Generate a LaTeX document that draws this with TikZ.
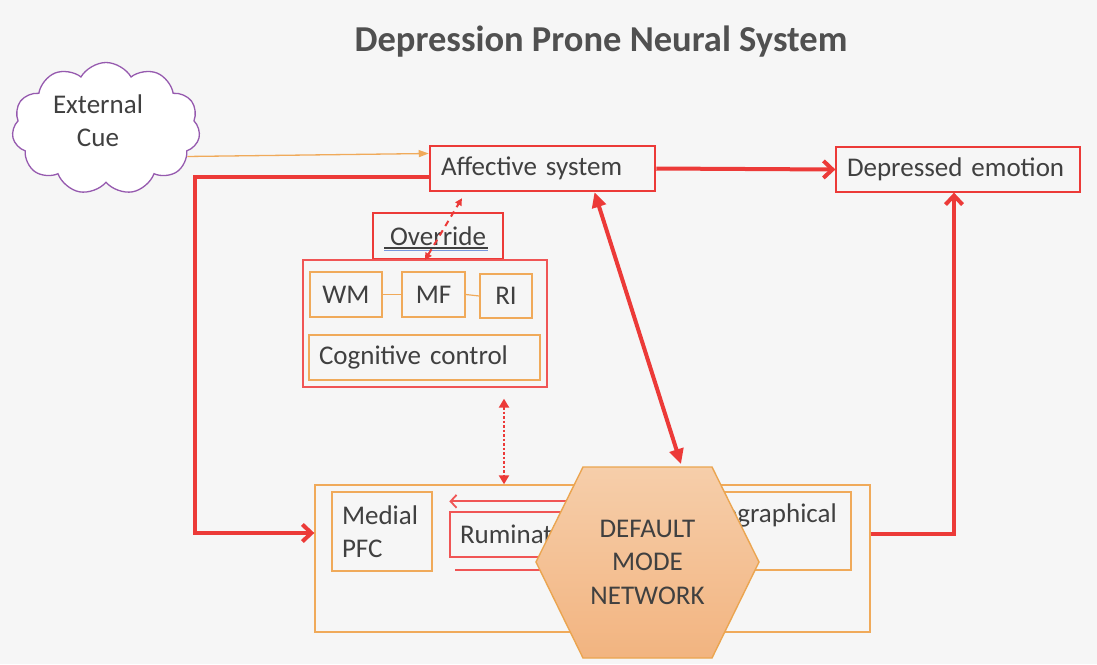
\documentclass[tikz,border=0pt]{standalone}
\usepackage{fontspec}
\setmainfont{Carlito}
\usetikzlibrary{arrows.meta,shapes.symbols}

\definecolor{bg}{RGB}{246,246,246}
\definecolor{redline}{RGB}{236,58,56}
\definecolor{softred}{RGB}{240,85,85}
\definecolor{orangeline}{RGB}{240,170,90}
\definecolor{cloudpurple}{RGB}{150,90,175}
\definecolor{txt}{RGB}{64,64,64}
\definecolor{titletxt}{RGB}{80,80,80}
\definecolor{hextop}{RGB}{246,206,170}
\definecolor{hexbot}{RGB}{242,180,128}
\definecolor{hexedge}{RGB}{235,165,80}
\definecolor{ulblue}{RGB}{120,150,220}

\begin{document}
\begin{tikzpicture}[x=1pt,y=-1pt,
  font=\fontsize{27}{33}\selectfont, text=txt,
  redbox/.style={draw=redline, line width=1.3pt, inner sep=0pt, inner xsep=11pt, align=left},
  orbox/.style={draw=orangeline, line width=1.4pt, inner sep=0pt, inner xsep=10pt, align=left},
  heavy/.style={draw=redline, line width=4pt, -{Straight Barb[length=9pt,width=17pt,line width=4pt]}},
  twoway/.style={draw=redline, line width=4pt, {Triangle[length=15pt,width=14pt]}-{Triangle[length=15pt,width=14pt]}},
  thinred/.style={draw=softred, line width=1.8pt},
]
\useasboundingbox (0,0) rectangle (1097,664);
\fill[bg] (0,0) rectangle (1097,664);

% title
\node[text=titletxt] (title) at (601,42) {\fontsize{36.5}{40}\selectfont\bfseries Depression Prone Neural System};

% external cue cloud
\node[cloud, cloud puffs=11, cloud puff arc=120, aspect=1.4, draw=cloudpurple, fill=white,
      line width=1.3pt, minimum width=188pt, minimum height=132pt, inner sep=0pt]
  (cue) at (106,128.5) {};
\node[align=center, inner sep=0pt] (cuetext) at (98,121) {External\\Cue};

% affective system and output
\node[redbox, line width=2.5pt, text width=203pt, minimum height=45pt] (aff) at (542.5,168.5) {Affective system};
\node[redbox, text width=222pt, minimum height=45pt] (dep) at (958,169.5) {Depressed emotion};

% override and cognitive control
\node[redbox, line width=2pt, inner xsep=0pt, text width=130pt, align=center, minimum height=46pt] (ovr) at (438,236) {Override};
\node[draw=softred, line width=1.3pt, inner sep=0pt, minimum width=244pt, minimum height=127pt] (cog) at (425,323.5) {};
\node[orbox, inner xsep=0pt, text width=72pt, align=center, minimum height=45pt] (wm) at (346,294.5) {WM};
\node[orbox, inner xsep=0pt, text width=63pt, align=center, minimum height=45pt] (mf) at (433.5,294.5) {MF};
\node[orbox, inner xsep=0pt, text width=52pt, align=center, minimum height=44pt] (ri) at (506,296) {RI};
\node[orbox, text width=211pt, minimum height=45pt] (cc) at (424.5,357.5) {Cognitive control};
\draw[orangeline, line width=1.2pt] (wm.east) -- (mf.west);
\draw[orangeline, line width=1.2pt] (mf.east) -- (ri.west);

% underline of the override label
\draw[txt, line width=1.8pt] ([xshift=-54pt,yshift=-12pt]ovr.center) -- ([xshift=50pt,yshift=-12pt]ovr.center);
\draw[ulblue, line width=1.6pt] ([xshift=-54pt,yshift=-14.5pt]ovr.center) -- ([xshift=50pt,yshift=-14.5pt]ovr.center);

% default mode subsystem
\node[draw=orangeline, line width=1.4pt, inner sep=0pt, minimum width=555pt, minimum height=147pt] (bot) at (592.5,558.5) {};
\node[orbox, text width=80pt, minimum height=79pt] (mpfc) at (382,531.5) {Medial\\PFC};
\node[redbox, draw=softred, inner xsep=10pt, text width=130pt, minimum height=45pt] (rum) at (525,534.5) {Rumination};
\node[draw=orangeline, line width=1.4pt, inner sep=0pt, minimum width=206pt, minimum height=78pt] (auto) at (748,531) {};
\node[anchor=east, inner sep=0pt] (autotext) at (837,515) {Autobiographical};
\draw[thinred, -{Straight Barb[length=6pt,width=13pt]}] ([yshift=10pt]rum.north east) -- ([yshift=10pt]rum.north west);
\draw[thinred] ([shift={(6pt,-12pt)}]rum.south west) -- ([yshift=-12pt]rum.south east);

% hexagon of the default mode network
\shade[top color=hextop, bottom color=hexbot, draw=hexedge, line width=1.4pt]
  (536,562) -- (583,467) -- (712,467) -- (759,562) -- (712,658) -- (583,658) -- cycle;
\node[align=center, font=\fontsize{27}{33.5}\selectfont] (dmn) at (647.5,562) {DEFAULT\\MODE\\NETWORK};
\coordinate (dmntop) at (681,464);

% connectors
\draw[orangeline, line width=1.3pt, -{Triangle[length=10pt,width=7pt]}] (cue.-19) -- ([yshift=15pt]aff.west);
\draw[heavy] (aff.east) -- (dep.west);
\draw[heavy] ([yshift=-8.5pt]aff.west) -| (195,533) -- ([yshift=25.5pt]bot.west);
\draw[heavy] ([yshift=25pt]bot.east) -| ([xshift=-4pt]dep.south);
\draw[twoway] ([xshift=52pt]aff.south) -- (dmntop);
\draw[redline, line width=2pt, dash pattern=on 6pt off 5pt,
      {Triangle[length=7pt,width=7pt]}-{Triangle[length=7pt,width=7pt]}, shorten >=7pt]
  ([xshift=-13pt]ovr.south) -- ([xshift=-77pt]aff.south);
\draw[redline, line width=2.5pt, dash pattern=on 2.5pt off 2pt,
      {Triangle[length=9pt,width=10pt]}-{Triangle[length=9pt,width=10pt]}, shorten <=11pt]
  ([xshift=79pt]cog.south) -- ([xshift=-88.5pt]bot.north);
\end{tikzpicture}
\end{document}
